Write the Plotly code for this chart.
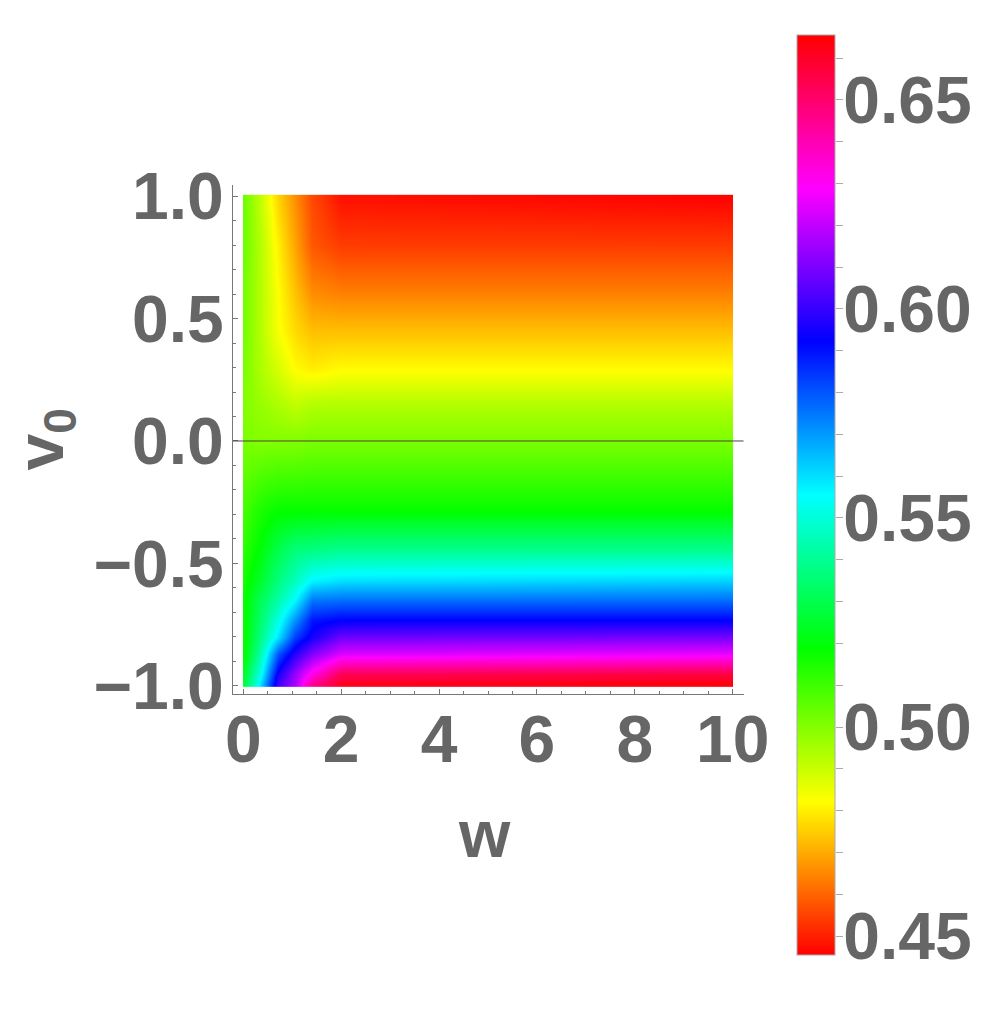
import numpy as np
import plotly.graph_objects as go

# grid (w across, v0 up)
w = [0, 0.35, 0.7, 1.05, 1.4, 2.0, 10]
v0 = [-1, -0.95, -0.87, -0.8, -0.73, -0.65, -0.57, -0.45, -0.28, 0, 0.15, 0.29, 0.45, 0.62, 0.8, 1]

# z[row = v0][col = w]
z = [
    [0.528, 0.559, 0.601, 0.617, 0.644, 0.661, 0.664],
    [0.525, 0.552, 0.595, 0.614, 0.632, 0.653, 0.656],
    [0.519, 0.543, 0.580, 0.598, 0.611, 0.624, 0.626],
    [0.518, 0.537, 0.559, 0.583, 0.595, 0.608, 0.609],
    [0.518, 0.534, 0.552, 0.571, 0.589, 0.592, 0.592],
    [0.518, 0.531, 0.543, 0.556, 0.575, 0.576, 0.576],
    [0.516, 0.525, 0.537, 0.546, 0.557, 0.560, 0.562],
    [0.513, 0.520, 0.530, 0.537, 0.538, 0.540, 0.540],
    [0.509, 0.515, 0.518, 0.518, 0.518, 0.518, 0.518],
    [0.501, 0.500, 0.500, 0.500, 0.501, 0.501, 0.501],
    [0.500, 0.497, 0.494, 0.491, 0.493, 0.493, 0.493],
    [0.501, 0.494, 0.488, 0.482, 0.480, 0.482, 0.482],
    [0.502, 0.493, 0.483, 0.477, 0.473, 0.473, 0.473],
    [0.502, 0.493, 0.482, 0.473, 0.465, 0.463, 0.463],
    [0.503, 0.493, 0.480, 0.469, 0.458, 0.454, 0.454],
    [0.503, 0.491, 0.476, 0.466, 0.456, 0.448, 0.446],
]

zmin, zmax = 0.4455, 0.6655

# heatmap bricks reach half a cell past the centres, so repeat the edge
# rows/cols a hair inside; the image then stops at the data extent
eps = 0.01
xs = [w[0], w[0] + eps] + w[1:-1] + [w[-1] - eps, w[-1]]
ys = [v0[0], v0[0] + eps] + v0[1:-1] + [v0[-1] - eps, v0[-1]]
zz = np.array(z)
zz = np.hstack([zz[:, :1], zz, zz[:, -1:]])
zz = np.vstack([zz[:1], zz, zz[-1:]])

hue = [[0, '#ff0000'], [1 / 6, '#ffff00'], [2 / 6, '#00ff00'], [3 / 6, '#00ffff'],
       [4 / 6, '#0000ff'], [5 / 6, '#ff00ff'], [1, '#ff0000']]

gray = '#666666'
axis_font = dict(family='Liberation Sans, Arial, sans-serif', size=66, color=gray, weight='bold')

# colour bar box (paper = whole figure here)
cb_left, cb_right = 0.789, 0.827
cb_bottom, cb_top = 0.0815, 0.9738

fig = go.Figure()
fig.add_trace(go.Heatmap(
    x=xs, y=ys, z=zz, zsmooth='best',
    colorscale=hue, zmin=zmin, zmax=zmax,
    colorbar=dict(
        thickness=38, thicknessmode='pixels',
        len=cb_top - cb_bottom, lenmode='fraction',
        x=cb_left, xanchor='left', y=(cb_top + cb_bottom) / 2, yanchor='middle',
        xpad=0, ypad=0,
        outlinewidth=1, outlinecolor='#aaaaaa',
        ticks='', showticklabels=False,
    ),
))
# empty trace so the subplot holding the colour-bar axis gets drawn
fig.add_trace(go.Scatter(x=[], y=[], xaxis='x2', yaxis='y2', showlegend=False, hoverinfo='skip'))

fig.add_shape(type='line', xref='x domain', yref='y', x0=0, x1=1, y0=0, y1=0,
              line=dict(color='#444444', width=1), layer='above')

fig.add_annotation(text='w', xref='paper', yref='paper', x=0.476, y=0.199,
                   showarrow=False, font=axis_font, xanchor='center', yanchor='middle')
fig.add_annotation(text='v<sub>0</sub>', xref='paper', yref='paper', x=0.037, y=0.5815,
                   showarrow=False, font=axis_font, textangle=-90,
                   xanchor='center', yanchor='middle')

fig.update_layout(
    width=1000, height=1031,
    margin=dict(l=0, r=0, t=0, b=0, autoexpand=False),
    paper_bgcolor='white', plot_bgcolor='white',
    showlegend=False,
    xaxis=dict(domain=[0.225, 0.7355], range=[-0.21, 10.22],
               tickvals=[0, 2, 4, 6, 8, 10], tickformat='d',
               showline=True, linecolor='#777777', linewidth=1, mirror=False,
               ticks='inside', ticklen=5, tickcolor='#777777',
               minor=dict(dtick=0.5, ticks='inside', ticklen=3, tickcolor='#777777'),
               ticklabelstandoff=-12,
               showgrid=False, zeroline=False, tickfont=axis_font),
    yaxis=dict(domain=[0.3346, 0.8283], range=[-1.033, 1.045],
               tickvals=[-1, -0.5, 0, 0.5, 1], tickformat='.1f',
               showline=True, linecolor='#777777', linewidth=1, mirror=False,
               ticks='inside', ticklen=5, tickcolor='#777777',
               minor=dict(dtick=0.1, ticks='inside', ticklen=3, tickcolor='#777777'),
               ticklabelstandoff=-5,
               showgrid=False, zeroline=False, tickfont=axis_font),
    # right axis of an empty subplot carries the colour-bar ticks and labels
    xaxis2=dict(domain=[cb_left, cb_right], anchor='y2', visible=False, range=[0, 1]),
    yaxis2=dict(domain=[cb_bottom, cb_top], anchor='x2', side='right',
                range=[zmin, zmax], tick0=0.45, dtick=0.01, ticklabelstep=5,
                tickformat='.2f', ticks='outside', ticklen=7, tickcolor='#aaaaaa',
                ticklabelstandoff=-13,
                showline=False, showgrid=False, zeroline=False, tickfont=axis_font),
)

fig.write_html('out.html')
